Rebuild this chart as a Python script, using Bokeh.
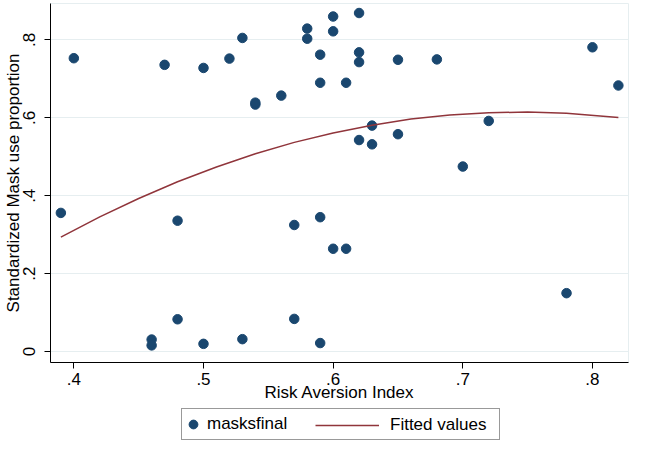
from bokeh.plotting import figure
from bokeh.layouts import column
from bokeh.models import Range1d, FixedTicker, Legend, LegendItem
from bokeh.embed import file_html
from bokeh.resources import INLINE

# ---- data ----
risk_aversion = [0.39, 0.40, 0.46, 0.46, 0.47, 0.48, 0.48, 0.50, 0.50, 0.52,
                 0.53, 0.53, 0.54, 0.54, 0.56, 0.57, 0.57, 0.58, 0.58, 0.59,
                 0.59, 0.59, 0.59, 0.60, 0.60, 0.60, 0.61, 0.61, 0.62, 0.62,
                 0.62, 0.62, 0.63, 0.63, 0.65, 0.65, 0.68, 0.70, 0.72, 0.78,
                 0.80, 0.82]
masksfinal = [0.356, 0.753, 0.031, 0.016, 0.736, 0.336, 0.083, 0.728, 0.020, 0.752,
              0.805, 0.032, 0.634, 0.639, 0.657, 0.325, 0.084, 0.829, 0.803, 0.762,
              0.690, 0.345, 0.022, 0.860, 0.822, 0.264, 0.690, 0.264, 0.869, 0.768,
              0.743, 0.543, 0.580, 0.532, 0.749, 0.558, 0.750, 0.475, 0.592, 0.150,
              0.781, 0.683]

fit_x = [0.39, 0.42, 0.45, 0.48, 0.51, 0.54, 0.57, 0.60, 0.63, 0.66, 0.69, 0.72, 0.75, 0.78, 0.82]
fit_y = [0.294, 0.346, 0.393, 0.436, 0.474, 0.508, 0.537, 0.561, 0.581, 0.597, 0.607, 0.613, 0.615, 0.612, 0.601]

x_ticks = [0.4, 0.5, 0.6, 0.7, 0.8]
x_tick_labels = [".4", ".5", ".6", ".7", ".8"]
y_ticks = [0.0, 0.2, 0.4, 0.6, 0.8]
y_tick_labels = ["0", ".2", ".4", ".6", ".8"]

series_names = ["masksfinal", "Fitted values"]
x_title = "Risk Aversion Index"
y_title = "Standardized Mask use proportion"

# ---- styling ----
FONT = "Liberation Sans"
FS = "17px"
NAVY = "#1a476f"
MAROON = "#90353b"
GRID = "#e6eef0"

p = figure(width=629, height=407, output_backend="svg", toolbar_location=None,
           x_range=Range1d(0.382, 0.8278), y_range=Range1d(-0.0279, 0.8934),
           min_border_left=50, min_border_right=1, min_border_top=3, min_border_bottom=45,
           background_fill_color="white", border_fill_color="white")

p.outline_line_color = GRID
p.xgrid.visible = False
p.ygrid.grid_line_color = GRID
p.ygrid.grid_line_width = 1
p.ygrid.ticker = FixedTicker(ticks=y_ticks)

p.xaxis.ticker = FixedTicker(ticks=x_ticks)
p.yaxis.ticker = FixedTicker(ticks=y_ticks)
p.xaxis.major_label_overrides = dict(zip(x_ticks, x_tick_labels))
p.yaxis.major_label_overrides = dict(zip(y_ticks, y_tick_labels))
p.yaxis.major_label_orientation = "vertical"

for ax in (p.xaxis[0], p.yaxis[0]):
    ax.axis_line_color = "black"
    ax.axis_line_width = 1
    ax.major_tick_line_color = "black"
    ax.major_tick_out = 6
    ax.major_tick_in = 0
    ax.minor_tick_line_color = None
    ax.major_label_text_font = FONT
    ax.major_label_text_font_size = FS
    ax.major_label_text_color = "black"
    ax.axis_label_text_font = FONT
    ax.axis_label_text_font_size = FS
    ax.axis_label_text_font_style = "normal"
    ax.axis_label_text_color = "black"

p.xaxis.axis_label = x_title
p.yaxis.axis_label = y_title
p.xaxis.major_label_standoff = 4
p.xaxis.axis_label_standoff = -5
p.yaxis.major_label_standoff = 9
p.yaxis.axis_label_standoff = -2

p.scatter(risk_aversion, masksfinal, size=9.5, marker="circle",
          fill_color=NAVY, line_color=NAVY)
p.line(fit_x, fit_y, line_color=MAROON, line_width=1.5)

# ---- legend strip below the plot (its own renderers lie outside its view) ----
p2 = figure(width=629, height=35, output_backend="svg", toolbar_location=None,
            x_range=Range1d(10, 11), y_range=Range1d(10, 11),
            x_axis_location=None, y_axis_location=None,
            min_border=0, outline_line_color=None,
            background_fill_color="white", border_fill_color="white")
p2.xgrid.visible = False
p2.ygrid.visible = False
key_pts = p2.scatter(risk_aversion, masksfinal, size=9.5, marker="circle",
                     fill_color=NAVY, line_color=NAVY)
key_fit = p2.line(fit_x, fit_y, line_color=MAROON, line_width=1.5)

legA = Legend(items=[LegendItem(label=series_names[0], renderers=[key_pts], index=0)],
              location=(131, 2), orientation="horizontal",
              padding=0, glyph_width=22, glyph_height=22, label_height=30,
              label_width=292, label_standoff=3,
              label_text_font=FONT, label_text_font_size=FS, label_text_color="black",
              border_line_color="#333333", border_line_width=1,
              background_fill_color="white", background_fill_alpha=1.0)
legB = Legend(items=[LegendItem(label=series_names[1], renderers=[key_fit])],
              location=(265, 2), orientation="horizontal",
              padding=0, glyph_width=64, glyph_height=22, label_height=30,
              label_standoff=11,
              label_text_font=FONT, label_text_font_size=FS, label_text_color="black",
              border_line_color=None, background_fill_alpha=0.0)
p2.add_layout(legA, "center")
p2.add_layout(legB, "center")

open("out.html", "w").write(file_html(column(p, p2, spacing=0), INLINE))
